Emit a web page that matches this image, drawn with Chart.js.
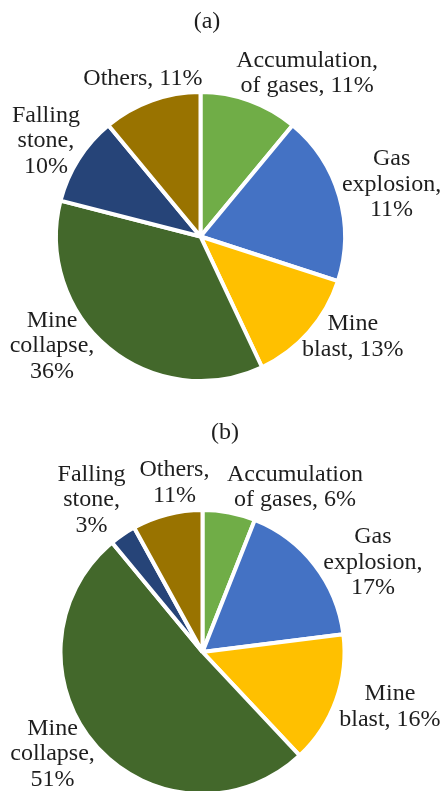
<!DOCTYPE html>
<html>
<head>
<meta charset="utf-8">
<script src="https://cdn.jsdelivr.net/npm/chart.js@4.4.1/dist/chart.umd.min.js"></script>
<style>
  html, body { margin: 0; padding: 0; background: #fff; }
  #wrap { position: relative; width: 443px; height: 791px; overflow: hidden; }
  canvas { position: absolute; left: 0; }
  #chart-a { top: 0; }
  #chart-b { top: 396px; }
</style>
</head>
<body>
<div id="wrap">
  <canvas id="chart-a" width="443" height="396"></canvas>
  <canvas id="chart-b" width="443" height="395"></canvas>
</div>
<script>
const categories = ['Accumulation of gases', 'Gas explosion', 'Mine blast', 'Mine collapse', 'Falling stone', 'Others'];
const sliceColors = ['#70AD47', '#4472C4', '#FFC000', '#43682B', '#264478', '#997300'];

// slice sizes as drawn in the picture
const valuesA = [11, 19, 13, 36, 10, 11];
const valuesB = [6, 17, 15, 51, 3, 8];

// percentages as printed on the labels
const printedA = ['11%', '11%', '13%', '36%', '10%', '11%'];
const printedB = ['6%', '17%', '16%', '51%', '3%', '11%'];

const linesA = [
    ['Accumulation,', 'of gases, ' + printedA[0]],
    ['Gas', 'explosion,', printedA[1]],
    ['Mine', 'blast, ' + printedA[2]],
    ['Mine', 'collapse,', printedA[3]],
    ['Falling', 'stone,', printedA[4]],
    ['Others, ' + printedA[5]]
];
const linesB = [
    ['Accumulation', 'of gases, ' + printedB[0]],
    ['Gas', 'explosion,', printedB[1]],
    ['Mine', 'blast, ' + printedB[2]],
    ['Mine', 'collapse,', printedB[3]],
    ['Falling', 'stone,', printedB[4]],
    ['Others,', printedB[5]]
];

const fontSize = 24;
const lineHeight = 25.5;
const textColor = '#1e1e1e';
const borderW = 4;

const sliceLabels = {
    id: 'sliceLabels',
    afterDraw(chart, args, opts) {
        const ctx = chart.ctx;
        const arcs = chart.getDatasetMeta(0).data;
        ctx.save();
        ctx.fillStyle = textColor;
        ctx.font = fontSize + 'px "Liberation Serif", "Times New Roman", serif';
        ctx.textAlign = 'center';
        ctx.textBaseline = 'middle';
        ctx.fillText(opts.title, opts.titleX, opts.titleY);
        arcs.forEach((arc, i) => {
            const p = arc.getProps(['x', 'y', 'startAngle', 'endAngle', 'outerRadius'], true);
            const mid = (p.startAngle + p.endAngle) / 2 + opts.shift[i] * Math.PI / 180;
            const d = (p.outerRadius - borderW / 2) * opts.dist[i];
            const cx = p.x + Math.cos(mid) * d;
            const cy = p.y + Math.sin(mid) * d;
            const lines = opts.lines[i];
            lines.forEach((line, k) => {
                ctx.fillText(line, cx, cy + (k - (lines.length - 1) / 2) * lineHeight);
            });
        });
        ctx.restore();
    }
};

const makePie = function (id, values, radius, padding, labelOpts) {
    return new Chart(document.getElementById(id), {
        type: 'pie',
        data: {
            labels: categories,
            datasets: [{
                data: values,
                backgroundColor: sliceColors,
                borderColor: '#ffffff',
                borderWidth: borderW,
                radius: radius
            }]
        },
        options: {
            responsive: false,
            animation: false,
            devicePixelRatio: 1,
            layout: { padding: padding },
            plugins: {
                legend: { display: false },
                tooltip: { enabled: false },
                sliceLabels: labelOpts
            }
        },
        plugins: [sliceLabels]
    });
};

makePie('chart-a', valuesA, 144.5, { left: 0, right: 42, top: 77, bottom: 0 }, {
    title: '(a)', titleX: 207, titleY: 22,
    lines: linesA,
    shift: [13.3, 0.9, -8, 14, -0.7, -0.3],
    dist: [1.37, 1.39, 1.28, 1.295, 1.275, 1.177]
});

makePie('chart-b', valuesB, 142, { left: 0, right: 38, top: 117, bottom: 0 }, {
    title: '(b)', titleX: 225, titleY: 37,
    lines: linesB,
    shift: [18.5, 10.1, -3.5, 7.2, -1.9, 5],
    dist: [1.35, 1.375, 1.395, 1.295, 1.345, 1.227]
});
</script>
</body>
</html>
